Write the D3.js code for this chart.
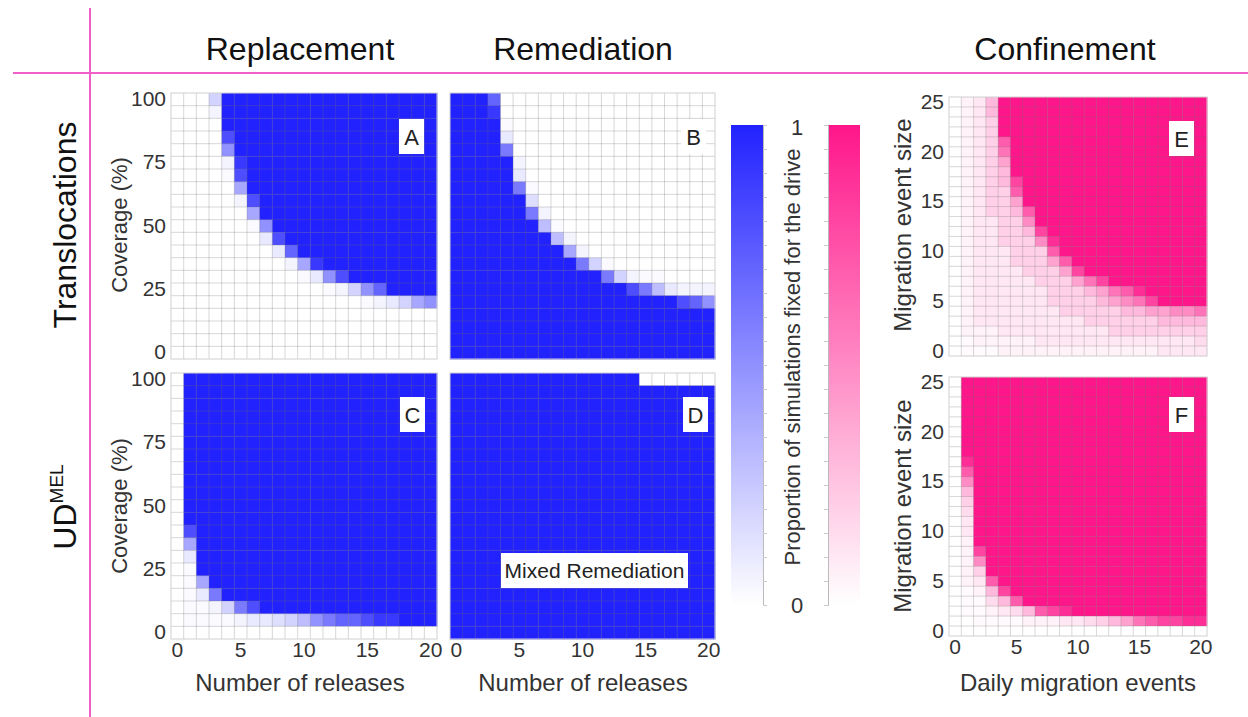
<!DOCTYPE html>
<html>
<head>
<meta charset="utf-8">
<script src="https://cdn.jsdelivr.net/npm/d3@7"></script>
<style>
  body { margin: 0; background: #fff; }
  text { font-family: "Liberation Sans", Arial, sans-serif; }
</style>
</head>
<body>
<div id="vis"></div>
<script>
// categories
var releases = [0,1,2,3,4,5,6,7,8,9,10,11,12,13,14,15,16,17,18,19,20];
var migrations = [0,1,2,3,4,5,6,7,8,9,10,11,12,13,14,15,16,17,18,19,20];
var coverage = [100,95,90,85,80,75,70,65,60,55,50,45,40,35,30,25,20,15,10,5,0];
var eventSize = [25,24,23,22,21,20,19,18,17,16,15,14,13,12,11,10,9,8,7,6,5,4,3,2,1,0];

// tick labels
var releaseTicks = [0,5,10,15,20];
var coverageTicks = [0,25,50,75,100];
var sizeTicks = [0,5,10,15,20,25];

// proportion fixed, one char per cell, rows from top (highest y value) down
var levels = {".":0, "a":0.02, "b":0.05, "1":0.1, "c":0.15, "2":0.2, "3":0.3, "4":0.4,
              "5":0.5, "6":0.6, "7":0.7, "8":0.8, "9":0.9, "#":1};

var gridA = [
  "...2#################",
  "...b#################",
  "....#################",
  "....8################",
  "....5################",
  "....b9###############",
  "....a8###############",
  ".....4###############",
  ".....b8##############",
  "......4##############",
  "......a5#############",
  ".......18############",
  "........17###########",
  ".........b49#########",
  "..........a158#######",
  "............ab257####",
  "...............ab1245",
  ".....................",
  ".....................",
  ".....................",
  "....................."
];
var gridB = [
  "###7.................",
  "###9.................",
  "####a................",
  "####1................",
  "####6................",
  "#####b...............",
  "#####1...............",
  "#####6a..............",
  "######c..............",
  "######6b.............",
  "#######3a............",
  "########3b...........",
  "#########4b..........",
  "##########62a........",
  "############62baa....",
  "##############8631bbb",
  "##################875",
  "#####################",
  "#####################",
  "#####################",
  "#####################"
];
var gridC = [
  ".####################",
  ".####################",
  ".####################",
  ".####################",
  ".####################",
  ".####################",
  ".####################",
  ".####################",
  ".####################",
  ".####################",
  ".####################",
  ".####################",
  ".8###################",
  ".4###################",
  ".1###################",
  ".a###################",
  ".a4##################",
  ".a16#################",
  ".aab268##############",
  ".aaaab11c235677899###",
  "....................."
];
var gridD = [
  "###############......",
  "#####################",
  "#####################",
  "#####################",
  "#####################",
  "#####################",
  "#####################",
  "#####################",
  "#####################",
  "#####################",
  "#####################",
  "#####################",
  "#####################",
  "#####################",
  "#####################",
  "#####################",
  "#####################",
  "#####################",
  "#####################",
  "#####################",
  "#####################"
];
var gridE = [
  ".b13#################",
  ".b13#################",
  ".b12#################",
  ".b12#################",
  ".b127################",
  ".b126################",
  ".b124################",
  ".b123################",
  ".b1238###############",
  ".b1227###############",
  ".b1224###############",
  ".b12237##############",
  ".b11225##############",
  ".b112238#############",
  ".b1122259############",
  ".b1112227############",
  ".b11122247###########",
  ".b111122248##########",
  ".b11111222468########",
  ".b11111122234679#####",
  ".b111111222234568####",
  ".b1111111222223344556",
  ".b1111111112222223333",
  ".bbb11111111122222222",
  ".abbbbb1111111111111c",
  ".aaabbbbbbbbbbbbb1111"
];
var gridF = [
  ".####################",
  ".####################",
  ".####################",
  ".####################",
  ".####################",
  ".####################",
  ".####################",
  ".####################",
  ".9###################",
  ".7###################",
  ".5###################",
  ".3###################",
  ".2###################",
  ".c###################",
  ".1###################",
  ".1###################",
  ".b###################",
  ".b8##################",
  ".b5##################",
  ".b2##################",
  ".b17#################",
  ".ab38################",
  ".aac37###############",
  ".aab1c3789###########",
  "..aaaabbb11c234678899",
  "....................."
];

var blue = d3.scaleLinear().domain([0, 1]).range(["#ffffff", "#2222ff"]);
var pink = d3.scaleLinear().domain([0, 1]).range(["#ffffff", "#ff168a"]);

var svg = d3.select("#vis").append("svg")
    .attr("width", 1248)
    .attr("height", 717);

var panels = [
  {letter: "A", grid: gridA, cols: releases, rows: coverage, color: blue, x: 171, y: 93, w: 266, h: 266, yTicks: coverageTicks, xTicks: null, box: [-38, 26]},
  {letter: "B", grid: gridB, cols: releases, rows: coverage, color: blue, x: 450, y: 93, w: 265, h: 266, yTicks: null, xTicks: null, box: [-34, 26]},
  {letter: "C", grid: gridC, cols: releases, rows: coverage, color: blue, x: 171, y: 373, w: 266, h: 266, yTicks: coverageTicks, xTicks: releaseTicks, box: [-37, 24]},
  {letter: "D", grid: gridD, cols: releases, rows: coverage, color: blue, x: 450, y: 373, w: 265, h: 266, yTicks: null, xTicks: releaseTicks, box: [-32, 24]},
  {letter: "E", grid: gridE, cols: migrations, rows: eventSize, color: pink, x: 949, y: 97, w: 258, h: 259, yTicks: sizeTicks, xTicks: null, box: [-38, 24]},
  {letter: "F", grid: gridF, cols: migrations, rows: eventSize, color: pink, x: 949, y: 377, w: 258, h: 259, yTicks: sizeTicks, xTicks: releaseTicks, box: [-38, 20]}
];

panels.forEach(function(p) {
  var x = d3.scaleBand().domain(p.cols).range([0, p.w]);
  var y = d3.scaleBand().domain(p.rows).range([0, p.h]);

  var g = svg.append("g")
      .attr("transform", "translate(" + p.x + "," + p.y + ")");

  var cells = [];
  p.grid.forEach(function(row, i) {
    row.split("").forEach(function(ch, j) {
      cells.push({row: p.rows[i], col: p.cols[j], value: levels[ch]});
    });
  });

  g.selectAll("rect.cell")
      .data(cells)
      .enter()
      .append("rect")
      .attr("class", "cell")
      .attr("x", function(d) { return x(d.col) })
      .attr("y", function(d) { return y(d.row) })
      .attr("width", x.bandwidth() + 0.4)
      .attr("height", y.bandwidth() + 0.4)
      .attr("fill", function(d) { return p.color(d.value) });

  // grid lines
  g.selectAll("line.v")
      .data(p.cols.slice(1))
      .enter()
      .append("line")
      .attr("x1", function(d) { return x(d) })
      .attr("x2", function(d) { return x(d) })
      .attr("y1", 0)
      .attr("y2", p.h)
      .attr("stroke", "rgba(110,110,110,0.28)")
      .attr("stroke-width", 1);
  g.selectAll("line.h")
      .data(p.rows.slice(1))
      .enter()
      .append("line")
      .attr("y1", function(d) { return y(d) })
      .attr("y2", function(d) { return y(d) })
      .attr("x1", 0)
      .attr("x2", p.w)
      .attr("stroke", "rgba(110,110,110,0.28)")
      .attr("stroke-width", 1);

  g.append("rect")
      .attr("width", p.w)
      .attr("height", p.h)
      .attr("fill", "none")
      .attr("stroke", "#cfcfcf")
      .attr("stroke-width", 1);

  if (p.yTicks) {
    var ya = g.append("g")
        .call(d3.axisLeft(y).tickValues(p.yTicks).tickSize(0).tickPadding(5));
    ya.select(".domain").remove();
    ya.selectAll("text").style("font-size", "21px").style("font-family", "Liberation Sans, Arial, sans-serif").attr("fill", "#333");
  }
  if (p.xTicks) {
    var xa = g.append("g")
        .attr("transform", "translate(0," + p.h + ")")
        .call(d3.axisBottom(x).tickValues(p.xTicks).tickSize(0).tickPadding(3));
    xa.select(".domain").remove();
    xa.selectAll("text").style("font-size", "21px").style("font-family", "Liberation Sans, Arial, sans-serif").attr("fill", "#333");
  }

  // panel letter
  var bx = p.w + p.box[0];
  g.append("rect")
      .attr("x", bx)
      .attr("y", p.box[1])
      .attr("width", 25)
      .attr("height", 35)
      .attr("fill", "#fff");
  g.append("text")
      .attr("x", bx + 12.5)
      .attr("y", p.box[1] + 26)
      .attr("text-anchor", "middle")
      .style("font-size", "22px")
      .attr("fill", "#222")
      .text(p.letter);
});

// Mixed Remediation label
svg.append("rect")
    .attr("x", 501)
    .attr("y", 553)
    .attr("width", 187)
    .attr("height", 35)
    .attr("fill", "#fff");
svg.append("text")
    .attr("x", 594.5)
    .attr("y", 578)
    .attr("text-anchor", "middle")
    .style("font-size", "21px")
    .attr("fill", "#222")
    .text("Mixed Remediation");

// colour bars
var barScale = d3.scaleLinear().domain([0, 1]).range([605, 125]);
var defs = svg.append("defs");
[["gradBlue", blue], ["gradPink", pink]].forEach(function(d) {
  var lg = defs.append("linearGradient")
      .attr("id", d[0])
      .attr("x1", 0).attr("y1", 1).attr("x2", 0).attr("y2", 0);
  lg.append("stop").attr("offset", "0%").attr("stop-color", d[1](0));
  lg.append("stop").attr("offset", "100%").attr("stop-color", d[1](1));
});

svg.append("rect")
    .attr("x", 731).attr("y", barScale(1))
    .attr("width", 32).attr("height", barScale(0) - barScale(1))
    .attr("fill", "url(#gradBlue)");
svg.append("rect")
    .attr("x", 828).attr("y", barScale(1))
    .attr("width", 32).attr("height", barScale(0) - barScale(1))
    .attr("fill", "url(#gradPink)");

var axB = svg.append("g")
    .attr("transform", "translate(763,0)")
    .call(d3.axisRight(barScale).ticks(20).tickSize(4).tickFormat(""));
var axP = svg.append("g")
    .attr("transform", "translate(828,0)")
    .call(d3.axisLeft(barScale).ticks(20).tickSize(4).tickFormat(""));
[axB, axP].forEach(function(a) {
  a.select(".domain").attr("stroke", "#bbb");
  a.selectAll(".tick line").attr("stroke", "#ccc");
});

svg.append("text")
    .attr("x", 797).attr("y", barScale(1) + 10)
    .attr("text-anchor", "middle")
    .style("font-size", "22px").attr("fill", "#333")
    .text("1");
svg.append("text")
    .attr("x", 797).attr("y", barScale(0) + 8)
    .attr("text-anchor", "middle")
    .style("font-size", "22px").attr("fill", "#333")
    .text("0");
svg.append("text")
    .attr("transform", "translate(800,357) rotate(-90)")
    .attr("text-anchor", "middle")
    .style("font-size", "22px").attr("fill", "#333")
    .text("Proportion of simulations fixed for the drive");

// frame lines
svg.append("line")
    .attr("x1", 13).attr("x2", 1248).attr("y1", 73).attr("y2", 73)
    .attr("stroke", "#f060c8").attr("stroke-width", 2);
svg.append("line")
    .attr("x1", 90).attr("x2", 90).attr("y1", 8).attr("y2", 717)
    .attr("stroke", "#f060c8").attr("stroke-width", 2);

// column headers
[["Replacement", 300], ["Remediation", 583], ["Confinement", 1065]].forEach(function(d) {
  svg.append("text")
      .attr("x", d[1]).attr("y", 60)
      .attr("text-anchor", "middle")
      .style("font-size", "32px").attr("fill", "#111")
      .text(d[0]);
});

// row headers
svg.append("text")
    .attr("transform", "translate(76,225) rotate(-90)")
    .attr("text-anchor", "middle")
    .style("font-size", "32px").attr("fill", "#111")
    .text("Translocations");
var ud = svg.append("text")
    .attr("transform", "translate(76,507) rotate(-90)")
    .attr("text-anchor", "middle")
    .style("font-size", "32px").attr("fill", "#111");
ud.append("tspan").text("UD");
ud.append("tspan").attr("dy", -13).style("font-size", "19px").text("MEL");

// axis titles
[225, 506].forEach(function(cy) {
  svg.append("text")
      .attr("transform", "translate(127," + cy + ") rotate(-90)")
      .attr("text-anchor", "middle")
      .style("font-size", "22px").attr("fill", "#333")
      .text("Coverage (%)");
  svg.append("text")
      .attr("transform", "translate(911," + cy + ") rotate(-90)")
      .attr("text-anchor", "middle")
      .style("font-size", "24px").attr("fill", "#333")
      .text("Migration event size");
});
[["Number of releases", 300], ["Number of releases", 583], ["Daily migration events", 1078]].forEach(function(d) {
  svg.append("text")
      .attr("x", d[1]).attr("y", 691)
      .attr("text-anchor", "middle")
      .style("font-size", "24px").attr("fill", "#333")
      .text(d[0]);
});
</script>
</body>
</html>
